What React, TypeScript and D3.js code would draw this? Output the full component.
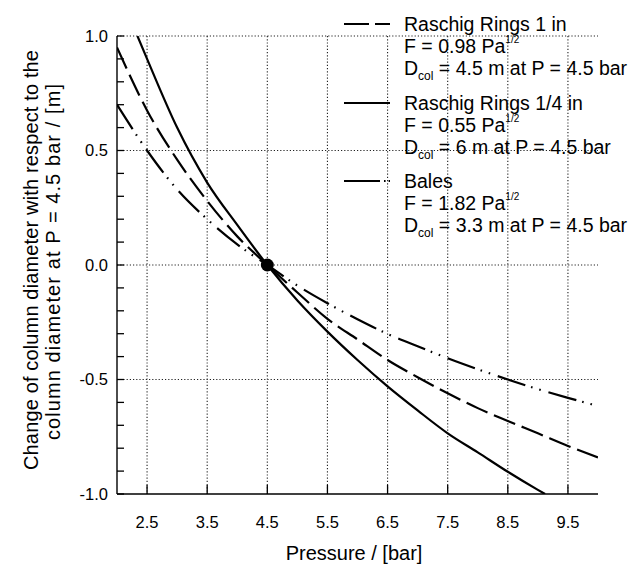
import React from "react";
import * as d3 from "d3";

const pressure14 = [2.34, 2.5, 3.0, 3.5, 4.0, 4.5, 5.0, 5.5, 6.0, 6.5, 7.0, 7.5, 8.0, 8.5, 9.0, 9.12];
const rings14 = [1.0, 0.9, 0.6, 0.36, 0.175, 0.0, -0.155, -0.291, -0.415, -0.53, -0.635, -0.735, -0.818, -0.903, -0.982, -1.0];

const pressure1 = [2.0, 2.5, 3.0, 3.5, 4.0, 4.5, 5.0, 5.5, 6.0, 6.5, 7.0, 7.5, 8.0, 8.5, 9.0, 9.5, 10.0];
const rings1 = [0.95, 0.675, 0.46, 0.28, 0.125, 0.0, -0.12, -0.235, -0.325, -0.415, -0.49, -0.56, -0.625, -0.681, -0.735, -0.79, -0.84];

const pressureBales = [2.0, 2.5, 3.0, 3.5, 4.0, 4.5, 5.0, 5.5, 6.0, 6.5, 7.0, 7.5, 8.0, 8.5, 9.0, 9.5, 10.0];
const bales = [0.7, 0.5, 0.33, 0.2, 0.09, 0.0, -0.09, -0.167, -0.237, -0.301, -0.355, -0.407, -0.455, -0.5, -0.542, -0.58, -0.616];

const xTicks = [2.5, 3.5, 4.5, 5.5, 6.5, 7.5, 8.5, 9.5];
const yTicks = [-1.0, -0.5, 0.0, 0.5, 1.0];
const yMinor = [-1.0, -0.9, -0.8, -0.7, -0.6, -0.5, -0.4, -0.3, -0.2, -0.1, 0.0, 0.1, 0.2, 0.3, 0.4, 0.5, 0.6, 0.7, 0.8, 0.9, 1.0];

const refPoint = { p: 4.5, d: 0 };

const FONT = "'Liberation Sans', Arial, Helvetica, sans-serif";

export default function App() {
  const W = 639, H = 571;
  const x = d3.scaleLinear().domain([2, 10]).range([117, 598]);
  const y = d3.scaleLinear().domain([-1, 1]).range([494, 36]);
  const line = d3.line<[number, number]>()
    .x(d => x(d[0]))
    .y(d => y(d[1]))
    .curve(d3.curveMonotoneX);
  const toPts = (xs: number[], ys: number[]) => xs.map((v, i) => [v, ys[i]] as [number, number]);

  const series = [
    { name: "Raschig Rings 1 in", F: "0.98", D: "4.5", pts: toPts(pressure1, rings1), dash: "23,7", legDash: "25,6", base: 31 },
    { name: "Raschig Rings 1/4 in", F: "0.55", D: "6", pts: toPts(pressure14, rings14), dash: "none", legDash: "none", base: 110 },
    { name: "Bales", F: "1.82", D: "3.3", pts: toPts(pressureBales, bales), dash: "29,6,1.6,7,1.6,8", legDash: "36,4,1.6,3,1.6,10", base: 188 },
  ];

  const [x0, x1] = x.range();
  const [y0, y1] = y.range();

  return (
    <svg width={W} height={H} style={{ position: "absolute", left: 0, top: 0, background: "#fff" }} fontFamily={FONT}>
      <defs>
        <clipPath id="plot">
          <rect x={x0} y={y1} width={x1 - x0} height={y0 - y1} />
        </clipPath>
      </defs>
      <rect width={W} height={H} fill="#fff" />
      {/* grid */}
      {xTicks.map(t => (
        <line key={"gx" + t} x1={x(t)} x2={x(t)} y1={y1} y2={y0} stroke="#222" strokeWidth={1.1} strokeDasharray="1.2,2" />
      ))}
      {yTicks.filter(t => t > -1).map(t => (
        <line key={"gy" + t} x1={x0} x2={x1} y1={y(t)} y2={y(t)} stroke="#222" strokeWidth={1.1} strokeDasharray="1.2,2" />
      ))}
      {/* axes */}
      <line x1={x0} x2={x0} y1={y1} y2={y0} stroke="#000" strokeWidth={1.4} />
      <line x1={x0} x2={x1} y1={y0} y2={y0} stroke="#000" strokeWidth={1.4} />
      {yMinor.map(t => (
        <line key={"ym" + t} x1={x0} x2={x0 + 7} y1={y(t)} y2={y(t)} stroke="#000" strokeWidth={1.3} />
      ))}
      {xTicks.map(t => (
        <line key={"xt" + t} x1={x(t)} x2={x(t)} y1={y0} y2={y0 - 9} stroke="#000" strokeWidth={1.3} />
      ))}
      {/* tick labels */}
      {yTicks.map(t => (
        <text key={"yl" + t} x={108} y={y(t)} dy="0.36em" textAnchor="end" fontSize={16.5} fill="#000">
          {t.toFixed(1)}
        </text>
      ))}
      {xTicks.map(t => (
        <text key={"xl" + t} x={x(t)} y={528} textAnchor="middle" fontSize={16.5} fill="#000">
          {t.toFixed(1)}
        </text>
      ))}
      {/* axis titles */}
      <text x={354} y={560} textAnchor="middle" fontSize={20} fill="#000">Pressure / [bar]</text>
      <text transform="translate(38,260) rotate(-90)" textAnchor="middle" fontSize={20} fill="#000"
        textLength={420} lengthAdjust="spacing">
        Change of column diameter with respect to the
      </text>
      <text transform="translate(60,262) rotate(-90)" textAnchor="middle" fontSize={20} fill="#000"
        textLength={356} lengthAdjust="spacing">
        column diameter at P = 4.5 bar / [m]
      </text>
      {/* curves */}
      <g clipPath="url(#plot)">
        {series.map(s => (
          <path key={s.name} d={line(s.pts) || ""} fill="none" stroke="#000" strokeWidth={2.2}
            strokeDasharray={s.dash === "none" ? undefined : s.dash} />
        ))}
      </g>
      <circle cx={x(refPoint.p)} cy={y(refPoint.d)} r={6.5} fill="#000" />
      {/* legend */}
      {series.map(s => (
        <g key={"lg" + s.name}>
          <line x1={344} x2={390} y1={s.base - 7} y2={s.base - 7} stroke="#000" strokeWidth={2.2}
            strokeDasharray={s.legDash === "none" ? undefined : s.legDash} />
          <text x={404} y={s.base} fontSize={19.5} fill="#000">{s.name}</text>
          <text x={404} y={s.base + 22} fontSize={19.5} fill="#000">
            {"F = " + s.F + " Pa"}
            <tspan fontSize={10} dy={-10}>1/2</tspan>
          </text>
          <text x={404} y={s.base + 44} fontSize={19.5} fill="#000">
            D
            <tspan fontSize={12} dy={5}>col</tspan>
            <tspan dy={-5}>{" = " + s.D + " m at P = 4.5 bar"}</tspan>
          </text>
        </g>
      ))}
    </svg>
  );
}
